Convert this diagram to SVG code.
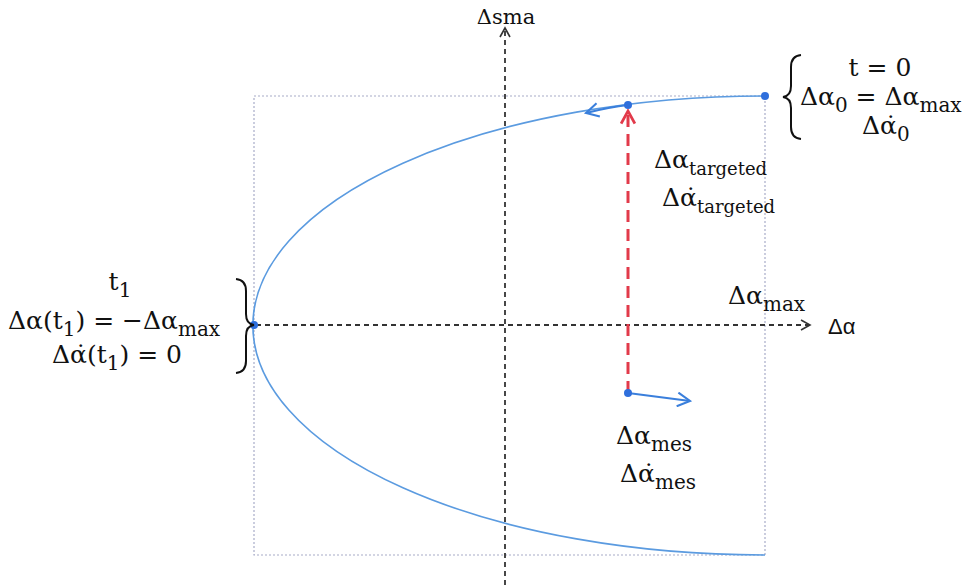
<svg xmlns="http://www.w3.org/2000/svg" width="970" height="585" viewBox="0 0 970 585">
<style>
.t{font-family:"DejaVu Serif","Liberation Serif",serif;font-size:25px;fill:#111}
.s{font-size:20px}
.s2{font-size:18px}
.ax{font-family:"DejaVu Serif","Liberation Serif",serif;font-size:21px;fill:#111}
.sans{font-family:"Liberation Sans",Arial,sans-serif;font-size:22px;fill:#111}
.box{fill:none;stroke:#a8acc8;stroke-width:1.2;stroke-dasharray:2 2}
.axis{fill:none;stroke:#333;stroke-width:1.8;stroke-dasharray:5 4}
.curve{fill:none;stroke:#5b9be0;stroke-width:1.6}
.dot{fill:#2f6fdc}
.brace{fill:none;stroke:#111;stroke-width:2}
</style>
<defs>
<marker id="ah" viewBox="0 0 12 12" refX="10" refY="6" markerWidth="12" markerHeight="12" markerUnits="userSpaceOnUse" orient="auto"><path d="M1,1 L10,6 L1,11" fill="none" stroke="#333" stroke-width="1.6"/></marker>
<marker id="ab" viewBox="0 0 14 14" refX="12" refY="7" markerWidth="16" markerHeight="16" markerUnits="userSpaceOnUse" orient="auto"><path d="M1,1 L12,7 L1,13" fill="none" stroke="#3a7fdc" stroke-width="1.8"/></marker>
<marker id="ar" viewBox="0 0 14 14" refX="12" refY="7" markerWidth="16" markerHeight="16" markerUnits="userSpaceOnUse" orient="auto"><path d="M1,1 L12,7 L1,13" fill="none" stroke="#e23a4a" stroke-width="2.4"/></marker>
</defs>
<g id="box"><rect class="box" x="254" y="96" width="511" height="459"/></g>
<g id="connectors">
<line class="axis" x1="505" y1="585" x2="505" y2="28" marker-end="url(#ah)"/>
<line class="axis" x1="256" y1="325" x2="810" y2="325" marker-end="url(#ah)"/>
<path class="curve" d="M765,96 A511,229 0 0 0 765,555"/>
<path d="M628,105 Q610,107 586,113" fill="none" stroke="#3a7fdc" stroke-width="2.2" marker-end="url(#ab)"/>
<line x1="628" y1="393" x2="628" y2="111" stroke="#e23a4a" stroke-width="3" stroke-dasharray="12 7" marker-end="url(#ar)"/>
<line x1="628" y1="393" x2="690" y2="401" stroke="#3a7fdc" stroke-width="2" marker-end="url(#ab)"/>
</g>
<g id="points">
<circle class="dot" cx="765" cy="96" r="4"/>
<circle class="dot" cx="628" cy="105" r="4"/>
<circle class="dot" cx="254" cy="325" r="4"/>
<circle class="dot" cx="628" cy="393" r="4"/>
</g>
<g id="axis-labels">
<text class="ax" x="506" y="24" text-anchor="middle">Δsma</text>
<text class="sans" x="828" y="334">Δα</text>
<text class="t" x="728" y="304">Δα<tspan class="s" dy="7">max</tspan></text>
</g>
<g id="start-state">
<path class="brace" d="M801,55 Q791,56 791,67 L791,86 Q791,96 783,97 Q791,98 791,108 L791,127 Q791,138 801,139"/>
<text class="t" x="880" y="76" text-anchor="middle">t = 0</text>
<text class="t" x="800" y="105">Δα<tspan class="s" dy="7">0</tspan><tspan dy="-7"> = Δα</tspan><tspan class="s" dy="7">max</tspan></text>
<text class="t" x="862" y="134">Δα̇<tspan class="s" dy="7">0</tspan></text>
</g>
<g id="t1-state">
<path class="brace" d="M236,279 Q246,280 246,291 L246,314 Q246,324 254,325 Q246,326 246,336 L246,361 Q246,372 236,373"/>
<text class="t" x="120" y="290" text-anchor="middle">t<tspan class="s" dy="7">1</tspan></text>
<text class="t" x="8" y="329">Δα(t<tspan class="s" dy="7">1</tspan><tspan dy="-7">) = −Δα</tspan><tspan class="s" dy="7">max</tspan></text>
<text class="t" x="52" y="363">Δα̇(t<tspan class="s" dy="7">1</tspan><tspan dy="-7">) = 0</tspan></text>
</g>
<g id="targeted">
<text class="t" x="654" y="168">Δα<tspan class="s2" dy="7">targeted</tspan></text>
<text class="t" x="662" y="206">Δα̇<tspan class="s2" dy="7">targeted</tspan></text>
</g>
<g id="measured">
<text class="t" x="616" y="444">Δα<tspan class="s" dy="7">mes</tspan></text>
<text class="t" x="620" y="482">Δα̇<tspan class="s" dy="7">mes</tspan></text>
</g>
</svg>
